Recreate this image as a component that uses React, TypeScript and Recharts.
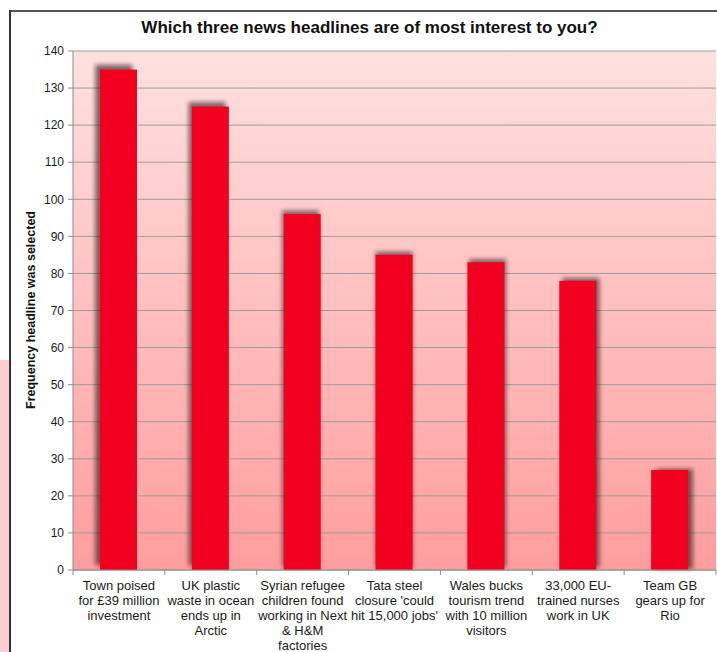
import React from 'react';
import { BarChart, Bar, XAxis, YAxis, CartesianGrid } from 'recharts';

const categories: string[] = [
  'Town poised\nfor £39 million\ninvestment',
  'UK plastic\nwaste in ocean\nends up in\nArctic',
  'Syrian refugee\nchildren found\nworking in Next\n& H&M\nfactories',
  "Tata steel\nclosure 'could\nhit 15,000 jobs'",
  'Wales bucks\ntourism trend\nwith 10 million\nvisitors',
  '33,000 EU-\ntrained nurses\nwork in UK',
  'Team GB\ngears up for\nRio',
];
const frequencies: number[] = [135, 125, 96, 85, 83, 78, 27];
const yTicks: number[] = [0, 10, 20, 30, 40, 50, 60, 70, 80, 90, 100, 110, 120, 130, 140];
const titleText = 'Which three news headlines are of most interest to you?';
const yLabelText = 'Frequency headline was selected';

const data = categories.map((name, i) => ({ name, value: frequencies[i] }));

const W = 717;
const H = 652;
const MARGIN = { top: 51, right: 1, left: 0, bottom: 0 };
const Y_W = 73;
const X_H = 82;
const BAND = (W - Y_W - MARGIN.right) / categories.length;
const PLOT_H = H - MARGIN.top - X_H;

const FONT = '"Liberation Sans", Arial, sans-serif';

const XTick = (props: any) => {
  const { x, y, payload, index } = props;
  const lines = String(payload.value).split('\n');
  const half = BAND / 2;
  const i = typeof index === 'number' ? index : payload.index;
  return (
    <g>
      <line x1={x - half} x2={x - half} y1={y - 5} y2={y} stroke="#8c8c8c" />
      {i === categories.length - 1 && (
        <line x1={x + half} x2={x + half} y1={y - 5} y2={y} stroke="#8c8c8c" />
      )}
      <text x={x} y={y} textAnchor="middle" fontSize={13} fill="#1a1a1a" fontFamily={FONT}>
        {lines.map((l, k) => (
          <tspan key={k} x={x} dy={15}>
            {l}
          </tspan>
        ))}
      </text>
    </g>
  );
};

const ShadowBar = (props: any) => {
  const { x, y, width, height, index, fill } = props;
  if (!width || !height) return null;
  const n = categories.length;
  const dx = (index - (n - 1) / 2) * 1.6;
  const dy = -(height / PLOT_H) * 5;
  return (
    <g>
      <rect
        x={x + dx}
        y={y + dy}
        width={width}
        height={height}
        fill="#2a1010"
        fillOpacity={0.6}
        filter="url(#shadowBlur)"
      />
      <rect x={x} y={y} width={width} height={height} fill={fill} />
    </g>
  );
};

export default function App() {
  return (
    <div
      style={{
        position: 'absolute',
        left: 0,
        top: 0,
        width: W,
        height: H,
        background: '#fff',
        fontFamily: FONT,
        overflow: 'hidden',
      }}
    >
      {/* pink strip at left edge */}
      <div style={{ position: 'absolute', left: 0, top: 360, width: 9, height: H - 360, background: '#ffcfcf' }} />
      {/* outer frame */}
      <div style={{ position: 'absolute', left: 9, top: 10, width: W, height: 2, background: '#555' }} />
      <div style={{ position: 'absolute', left: 9, top: 10, width: 2, height: H, background: '#333' }} />
      <div style={{ position: 'absolute', left: 0, top: 0 }}>
        <BarChart width={W} height={H} data={data} margin={MARGIN} barSize={37}>
          <defs>
            <linearGradient id="plotBg" x1="0" y1="0" x2="0" y2="1">
              <stop offset="0%" stopColor="#ffe1e1" />
              <stop offset="100%" stopColor="#ff9d9d" />
            </linearGradient>
            <filter id="shadowBlur" x="-40%" y="-40%" width="180%" height="180%">
              <feGaussianBlur stdDeviation="2.3" />
            </filter>
          </defs>
          <CartesianGrid vertical={false} stroke="#a59a9a" fill="url(#plotBg)" />
          <XAxis
            dataKey="name"
            height={X_H}
            interval={0}
            tickLine={false}
            tickSize={5}
            tickMargin={0}
            axisLine={{ stroke: '#8c8c8c' }}
            tick={<XTick />}
          />
          <YAxis
            width={Y_W}
            domain={[0, 140]}
            ticks={yTicks}
            interval={0}
            tickSize={5}
            tickMargin={4}
            tickLine={{ stroke: '#8c8c8c' }}
            axisLine={{ stroke: '#8c8c8c' }}
            tick={{ fontSize: 12, fill: '#1a1a1a', fontFamily: FONT }}
          />
          <YAxis
            yAxisId="right"
            orientation="right"
            width={0}
            tick={false}
            tickLine={false}
            axisLine={{ stroke: '#cf9a9a' }}
          />
          <Bar dataKey="value" fill="#f2001f" isAnimationActive={false} shape={<ShadowBar />} />
        </BarChart>
      </div>
      <div
        style={{
          position: 'absolute',
          left: 0,
          width: 739,
          top: 18.6,
          lineHeight: '17px',
          fontSize: 17,
          fontWeight: 'bold',
          textAlign: 'center',
          color: '#111',
          whiteSpace: 'nowrap',
        }}
      >
        {titleText}
      </div>
      <div
        style={{
          position: 'absolute',
          left: 31 - 130,
          top: 310 - 7,
          width: 260,
          lineHeight: '14px',
          fontSize: 12.5,
          fontWeight: 'bold',
          textAlign: 'center',
          color: '#111',
          whiteSpace: 'nowrap',
          transform: 'rotate(-90deg)',
        }}
      >
        {yLabelText}
      </div>
    </div>
  );
}
